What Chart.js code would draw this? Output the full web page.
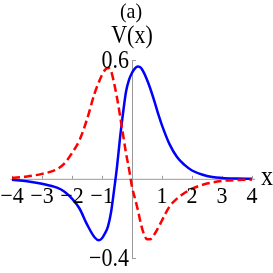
<!DOCTYPE html>
<html>
<head>
<meta charset="utf-8">
<script src="https://cdn.jsdelivr.net/npm/chart.js@4"></script>
<style>
  html, body { margin: 0; padding: 0; background: #fff; }
  #wrap { width: 273px; height: 273px; }
</style>
</head>
<body>
<div id="wrap"><canvas id="myChart" width="273" height="273"></canvas></div>
<script>
// values
const xs = [-4, -3.5, -3, -2.5, -2.25, -2, -1.75, -1.5, -1.25, -1.1, -1, -0.9, -0.8, -0.7, -0.6, -0.5, -0.4, -0.3, -0.2, -0.1,
            0, 0.1, 0.2, 0.3, 0.4, 0.5, 0.6, 0.75, 0.9, 1, 1.25, 1.5, 1.75, 2, 2.5, 3, 3.5, 4];
const blueV = [-0.005, -0.012, -0.025, -0.045, -0.065, -0.1, -0.15, -0.23, -0.295, -0.31, -0.3, -0.275, -0.24, -0.17, -0.06, 0.06, 0.205, 0.33, 0.44, 0.5,
               0.535, 0.558, 0.567, 0.56, 0.535, 0.5, 0.46, 0.39, 0.315, 0.27, 0.175, 0.11, 0.07, 0.042, 0.014, 0.004, 0.001, 0];
const redV = [0.005, 0.012, 0.025, 0.048, 0.078, 0.13, 0.195, 0.3, 0.43, 0.49, 0.525, 0.55, 0.56, 0.545, 0.485, 0.41, 0.32, 0.225, 0.13, 0.05,
              -0.04, -0.1, -0.16, -0.23, -0.28, -0.305, -0.305, -0.28, -0.24, -0.21, -0.14, -0.1, -0.072, -0.05, -0.024, -0.011, -0.006, -0.004];
const xTicks = [-4, -3, -2, -1, 1, 2, 3, 4];
const yTicks = [0.6, -0.4];

function pts(vals) {
    let out = [];
    for (let i = 0; i < xs.length; i++)
        out.push({ x: xs[i], y: vals[i] });
    return out;
}

function lbl(v) {
    let s = String(v);
    return v < 0 ? "\u2212" + s.substring(1) : s;
}

// text a bit taller than wide, like the original
function txt(ctx, s, x, y, size, align, stretch) {
    ctx.save();
    ctx.translate(x, y);
    ctx.scale(1, stretch);
    ctx.font = size + "px 'Liberation Serif'";
    ctx.textAlign = align;
    ctx.textBaseline = "alphabetic";
    ctx.fillText(s, 0, 0);
    ctx.restore();
}

const axesPlugin = {
    id: "axes",
    beforeDatasetsDraw(chart) {
        let ctx = chart.ctx;
        let sx = chart.scales.x, sy = chart.scales.y;
        let x0 = sx.getPixelForValue(0), y0 = sy.getPixelForValue(0);
        ctx.save();
        ctx.strokeStyle = "#999";
        ctx.lineWidth = 1;
        ctx.beginPath();
        ctx.moveTo(sx.getPixelForValue(-4.05), y0 + 0.5);
        ctx.lineTo(sx.getPixelForValue(4.1), y0 + 0.5);
        ctx.moveTo(x0 + 0.5, sy.getPixelForValue(0.6));
        ctx.lineTo(x0 + 0.5, sy.getPixelForValue(-0.4));
        // little ticks
        for (let t of xTicks) {
            let p = Math.round(sx.getPixelForValue(t)) + 0.5;
            ctx.moveTo(p, y0);
            ctx.lineTo(p, y0 - 3);
        }
        for (let t of yTicks) {
            let p = Math.round(sy.getPixelForValue(t)) + 0.5;
            ctx.moveTo(x0, p);
            ctx.lineTo(x0 + 4, p);
        }
        ctx.stroke();
        ctx.restore();
    },
    afterDraw(chart) {
        let ctx = chart.ctx;
        let sx = chart.scales.x, sy = chart.scales.y;
        let x0 = sx.getPixelForValue(0), y0 = sy.getPixelForValue(0);
        ctx.fillStyle = "#000";
        for (let t of xTicks)
            txt(ctx, lbl(t), sx.getPixelForValue(t), y0 + 24, 22, "center", 1.05);
        for (let t of yTicks)
            txt(ctx, lbl(t), x0 - 3, sy.getPixelForValue(t) + 8, 22, "right", 1.17);
        txt(ctx, "V(x)", x0, 43, 22, "center", 1.15);
        txt(ctx, "(a)", x0 - 1, 18, 20, "center", 1.1);
        txt(ctx, "x", 261, y0 + 6, 24, "left", 1.15);
    }
};

new Chart(document.getElementById("myChart"), {
    type: "line",
    data: {
        datasets: [
            {
                data: pts(redV),
                borderColor: "rgb(255,0,0)",
                borderWidth: 2.5,
                borderDash: [8, 4],
                pointRadius: 0,
                cubicInterpolationMode: "monotone",
                fill: false,
                clip: false
            },
            {
                data: pts(blueV),
                borderColor: "rgb(0,0,255)",
                borderWidth: 2.5,
                pointRadius: 0,
                cubicInterpolationMode: "monotone",
                fill: false,
                clip: false
            }
        ]
    },
    options: {
        responsive: false,
        animation: false,
        layout: { padding: { left: 12, right: 21, top: 60, bottom: 15 } },
        plugins: { legend: { display: false }, tooltip: { enabled: false } },
        scales: {
            x: { type: "linear", min: -4, max: 4, display: false },
            y: { type: "linear", min: -0.4, max: 0.6, display: false }
        }
    },
    plugins: [axesPlugin]
});
</script>
</body>
</html>
